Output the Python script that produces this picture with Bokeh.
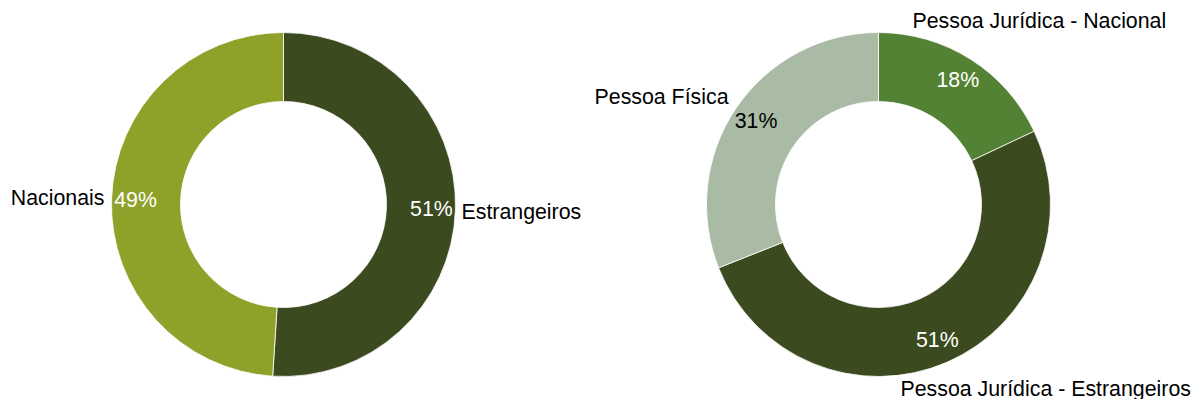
import math
from bokeh.plotting import figure
from bokeh.models import Range1d, ColumnDataSource
from bokeh.core.properties import value
from bokeh.embed import file_html
from bokeh.resources import INLINE

# ---- data ----
left_categories = ["Estrangeiros", "Nacionais"]
left_values = [51, 49]
left_colors = ["#3C4A1F", "#8EA128"]
left_pct_colors = ["#FFFFFF", "#FFFFFF"]

right_categories = ["Pessoa Jurídica - Nacional", "Pessoa Jurídica - Estrangeiros", "Pessoa Física"]
right_values = [18, 51, 31]
right_colors = ["#548235", "#3C4A1F", "#A9BBA4"]
right_pct_colors = ["#FFFFFF", "#FFFFFF", "#000000"]

# ---- layout (pixel coordinates of the picture) ----
W, H = 1195, 399
FONT = "Liberation Sans"
FSIZE = "16pt"
R_OUT, R_IN, R_LBL = 172, 103, 148

def sy(y):  # picture y -> data y
    return H - y

p = figure(width=W, height=H, output_backend="svg", toolbar_location=None,
           x_range=Range1d(0, W), y_range=Range1d(0, H),
           x_axis_location=None, y_axis_location=None, min_border=0)
p.outline_line_color = None
p.grid.visible = False
p.background_fill_color = "white"


def donut(cx, cy, cats, vals, cols, pcols, cat_pos):
    total = float(sum(vals))
    starts, ends, mids = [], [], []
    acc = 0.0
    for v in vals:
        a0 = acc / total
        acc += v
        a1 = acc / total
        starts.append(math.pi / 2 - 2 * math.pi * a0)
        ends.append(math.pi / 2 - 2 * math.pi * a1)
        mids.append(2 * math.pi * (a0 + a1) / 2)  # clockwise from top
    src = ColumnDataSource(dict(x=[cx] * len(vals), y=[sy(cy)] * len(vals),
                                s=starts, e=ends, c=cols))
    p.annular_wedge(x="x", y="y", inner_radius=R_IN, outer_radius=R_OUT,
                    inner_radius_units="screen", outer_radius_units="screen",
                    start_angle="s", end_angle="e", direction="clock",
                    fill_color="c", line_color="white", line_width=0.8, source=src)
    px = [cx + R_LBL * math.sin(m) for m in mids]
    py = [sy(cy - R_LBL * math.cos(m)) for m in mids]
    psrc = ColumnDataSource(dict(x=px, y=py, t=[f"{v}%" for v in vals], c=pcols))
    p.text(x="x", y="y", text="t", text_color="c", source=psrc,
           text_font=value(FONT), text_font_size=FSIZE,
           text_align="center", text_baseline="middle")
    for cat, (x, y, al) in zip(cats, cat_pos):
        p.text(x=[x], y=[sy(y)], text=[cat], text_color="#000000",
               text_font=value(FONT), text_font_size=FSIZE,
               text_align=al, text_baseline="middle")


donut(283, 204, left_categories, left_values, left_colors, left_pct_colors,
      [(461, 211, "left"), (104, 197, "right")])
donut(878, 204, right_categories, right_values, right_colors, right_pct_colors,
      [(912, 20, "left"), (900, 388, "left"), (728, 96, "right")])

open("out.html", "w").write(file_html(p, INLINE))
